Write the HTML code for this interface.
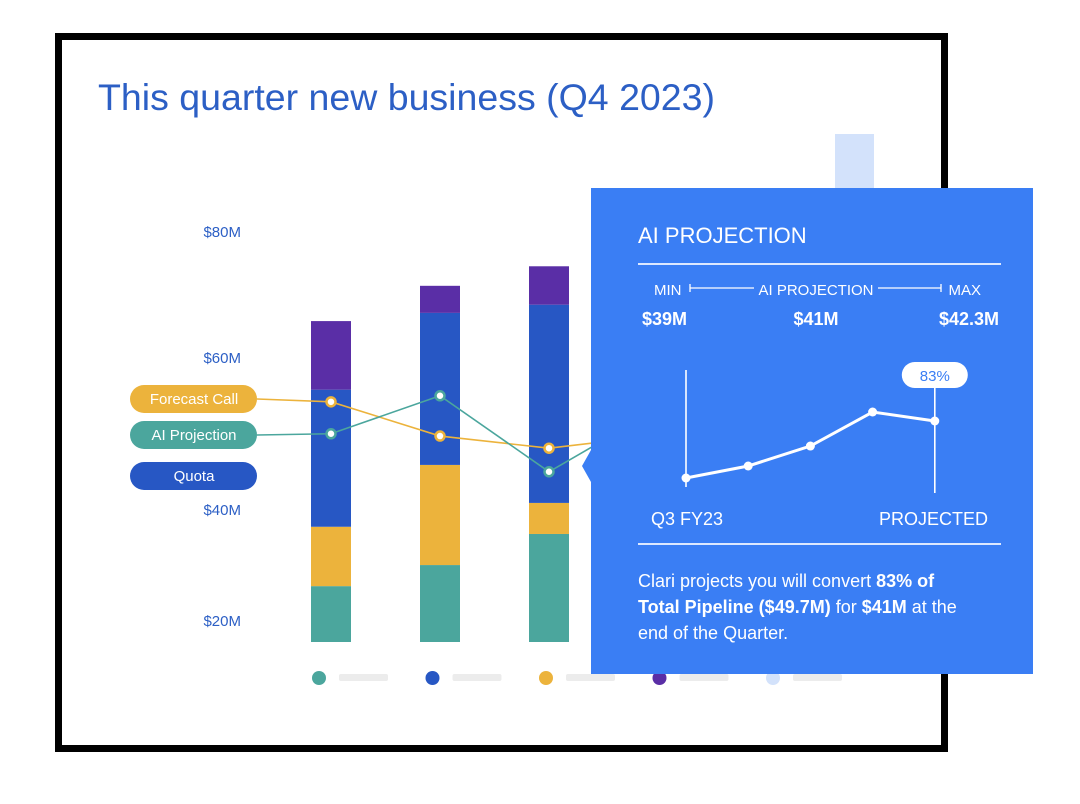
<!DOCTYPE html>
<html><head><meta charset="utf-8">
<style>
html,body{margin:0;padding:0;background:#fff;width:1080px;height:804px;overflow:hidden;font-family:"Liberation Sans",sans-serif;}
svg{display:block}
</style></head>
<body>
<svg id="chart" width="1080" height="804" viewBox="0 0 1080 804">
  <rect x="58.5" y="36.5" width="886" height="712" fill="#fff" stroke="#000" stroke-width="7"/>
  <text x="98" y="110" font-size="37.5" fill="#2c5fc5">This quarter new business (Q4 2023)</text>
  <g id="yticks"></g>
  <g id="bars"></g>
  <g id="lines"></g>
  <g id="pills"></g>
  <g id="legend"></g>
  <g id="popup">
    <path d="M591 188 H1033 V674 H591 V482 L582 466 L591 450 Z" fill="#3a7ef4"/>
    <text x="638" y="243" font-size="22" fill="#fff">AI PROJECTION</text>
    <line x1="638" y1="264" x2="1001" y2="264" stroke="#dce8ff" stroke-width="2"/>
    <text x="654" y="295" font-size="15" fill="#fff">MIN</text>
    <path d="M690 284 v8 M690 288 H754 M878 288 H941 M941 284 v8" stroke="#fff" stroke-width="1.3"/>
    <text x="816" y="295" font-size="15" fill="#fff" text-anchor="middle">AI PROJECTION</text>
    <text x="981" y="295" font-size="15" fill="#fff" text-anchor="end">MAX</text>
    <text x="642" y="325" font-size="18" font-weight="bold" fill="#fff">$39M</text>
    <text x="816" y="325" font-size="18" font-weight="bold" fill="#fff" text-anchor="middle">$41M</text>
    <text x="999" y="325" font-size="18" font-weight="bold" fill="#fff" text-anchor="end">$42.3M</text>
    <g id="mini"></g>
    <text x="651" y="525" font-size="18" fill="#fff">Q3 FY23</text>
    <text x="988" y="525" font-size="18" fill="#fff" text-anchor="end">PROJECTED</text>
    <line x1="638" y1="544" x2="1001" y2="544" stroke="#dce8ff" stroke-width="2"/>
    <text font-size="18" fill="#fff">
      <tspan x="638" y="587">Clari projects you will convert <tspan font-weight="bold">83% of</tspan></tspan>
      <tspan x="638" y="613"><tspan font-weight="bold">Total Pipeline ($49.7M)</tspan> for <tspan font-weight="bold">$41M</tspan> at the</tspan>
      <tspan x="638" y="639">end of the Quarter.</tspan>
    </text>
  </g>
</svg>
<script>
const yTickValues=[20,40,60,80];
const yTickLabels=["$20M","$40M","$60M","$80M"];
const seriesTeal=[26.1,29.9,35.5];
const seriesYellow=[10.7,15.9,5.3];
const seriesBlue=[18.9,21.2,27.5];
const seriesPurple=[10.0,4.3,6.1];
const forecastCall=[54.1,49.6,48.0,49.7];
const aiProjection=[49.9,54.9,44.9,53.2];
const miniValues=[10,18,31.3,54,48];
const legendColors=["#4ba69d","#2757c4","#ecb33c","#5a2ea6","#d3e2fb"];

const NS="http://www.w3.org/2000/svg";
function mk(tag,attrs,parent){const e=document.createElementNS(NS,tag);for(const k in attrs)e.setAttribute(k,attrs[k]);parent.appendChild(e);return e;}
const dom=[0,20,40,60,80,100],rng=[642,620,509,357,231,105];
function y(v){for(let i=0;i<dom.length-1;i++){if(v<=dom[i+1]||i==dom.length-2){return rng[i]+(v-dom[i])/(dom[i+1]-dom[i])*(rng[i+1]-rng[i]);}}}
function x(i){return 331+i*109;}

const yt=document.getElementById('yticks');
yTickValues.forEach((v,i)=>{const t=mk('text',{x:241,y:y(v)+6,'font-size':15,fill:'#2c5fc5','text-anchor':'end'},yt);t.textContent=yTickLabels[i];

});

const bars=document.getElementById('bars');
const lb=mk('rect',{x:835,y:134,width:39,height:100,fill:'#d3e2fb'},bars);


const stacks=[[seriesTeal,'#4ba69d'],[seriesYellow,'#ecb33c'],[seriesBlue,'#2757c4'],[seriesPurple,'#5a2ea6']];
seriesTeal.forEach((_,i)=>{let base=0;stacks.forEach(([s,c])=>{const top=base+s[i];const r=mk('rect',{x:x(i)-20,y:y(top),width:40,height:y(base)-y(top),fill:c},bars);

base=top;});});

const lines=document.getElementById('lines');
function drawLine(vals,color,py){
  let d=`M257 ${py} L${x(0)} ${y(vals[0])}`;
  vals.forEach((v,i)=>{d+=` L${x(i)} ${y(v)}`;});
  const p=mk('path',{d:d,fill:'none',stroke:color,'stroke-width':1.6},lines);
  
  
  vals.forEach((v,i)=>{const c=mk('circle',{cx:x(i),cy:y(v),r:4.5,fill:'#fff',stroke:color,'stroke-width':2.5},lines);
  
  });
}
drawLine(forecastCall,'#ecb33c',399);
drawLine(aiProjection,'#4ba69d',435);

const pills=document.getElementById('pills');
[["Forecast Call",'#ecb33c',385],["AI Projection",'#4ba69d',421],["Quota",'#2757c4',462]].forEach(([t,c,py])=>{
  const r=mk('rect',{x:130,y:py,width:127,height:28,rx:14,fill:c},pills);
  
  
  const tx=mk('text',{x:194,y:py+19,'font-size':15,fill:'#fff','text-anchor':'middle'},pills);tx.textContent=t;
  
  
});

const lg=document.getElementById('legend');
legendColors.forEach((c,i)=>{const cx=319+i*113.5;
  const d=mk('circle',{cx:cx,cy:678,r:7,fill:c},lg);
  
  
  const b=mk('rect',{x:cx+20,y:674,width:49,height:7,rx:2,fill:'#ececec'},lg);
  
  
});

const mini=document.getElementById('mini');
function mx(i){return 686+i*62.2;}
function my(v){return 493-v*1.5;}
mk('line',{x1:686,y1:370,x2:686,y2:487,stroke:'#fff','stroke-width':1.6},mini);
mk('line',{x1:mx(4),y1:385,x2:mx(4),y2:493,stroke:'#fff','stroke-width':1.6},mini);
let md='';miniValues.forEach((v,i)=>{md+=(i?' L':'M')+mx(i)+' '+my(v);});
const ml=mk('path',{d:md,fill:'none',stroke:'#fff','stroke-width':3},mini);


miniValues.forEach((v,i)=>{const c=mk('circle',{cx:mx(i),cy:my(v),r:4.5,fill:'#fff'},mini);

});
const pr=mk('rect',{x:mx(4)-33,y:362,width:66,height:26,rx:13,fill:'#fff'},mini);


const pt=mk('text',{x:mx(4),y:381,'font-size':15,fill:'#3a7ef4','text-anchor':'middle'},mini);pt.textContent='83%';


</script>
</body></html>
